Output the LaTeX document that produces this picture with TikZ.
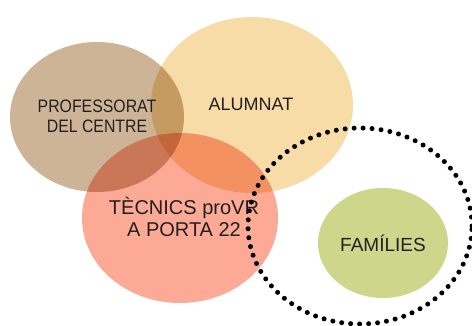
\documentclass[tikz,border=0pt]{standalone}
\usepackage{fontspec}
\setmainfont{Liberation Sans}
\newfontfamily\narrowfont[FakeStretch=0.88]{Liberation Sans}
\usetikzlibrary{shapes.geometric}
\definecolor{profcol}{RGB}{205,180,150}
\definecolor{alumcol}{RGB}{247,220,168}
\definecolor{teccol}{RGB}{252,169,149}
\definecolor{famcol}{RGB}{205,214,138}
\definecolor{txtcol}{RGB}{35,31,32}

\begin{document}
\begin{tikzpicture}[x=1pt,y=-1pt,
        blob/.style = {ellipse, inner sep=0pt, blend mode=multiply},
        tag/.style = {text=txtcol, align=center, inner sep=0pt},
        ring/.style = {ellipse, inner sep=0pt, draw=black, line width=5pt, line cap=round, dash pattern=on 0pt off 9pt}]
        \useasboundingbox (0,0) rectangle (472,325);
        \node[blob, fill=profcol, minimum width=174pt, minimum height=150pt] (prof) at (97,117) {};
        \node[blob, fill=alumcol, minimum width=202pt, minimum height=176pt] (alum) at (252,105) {};
        \node[blob, fill=teccol, minimum width=196pt, minimum height=170pt] (tec) at (180,218) {};
        \node[blob, fill=famcol, minimum width=130pt, minimum height=110pt] (fam) at (383,243) {};
        \node[tag, font=\narrowfont\fontsize{18}{20}\selectfont] (profname) at (97,116) {PROFESSORAT\\DEL CENTRE};
        \node[tag, font=\fontsize{18}{20}\selectfont] (alumname) at (251,104) {ALUMNAT};
        \node[tag, font=\fontsize{20}{22}\selectfont] (tecname) at (184,217) {TÈCNICS proVR\\A PORTA 22};
        \node[tag, font=\fontsize{19}{22}\selectfont] (famname) at (383,243) {FAMÍLIES};
        \node[ring, minimum width=224pt, minimum height=196pt] (zona) at (360,226) {};
\end{tikzpicture}
\end{document}
